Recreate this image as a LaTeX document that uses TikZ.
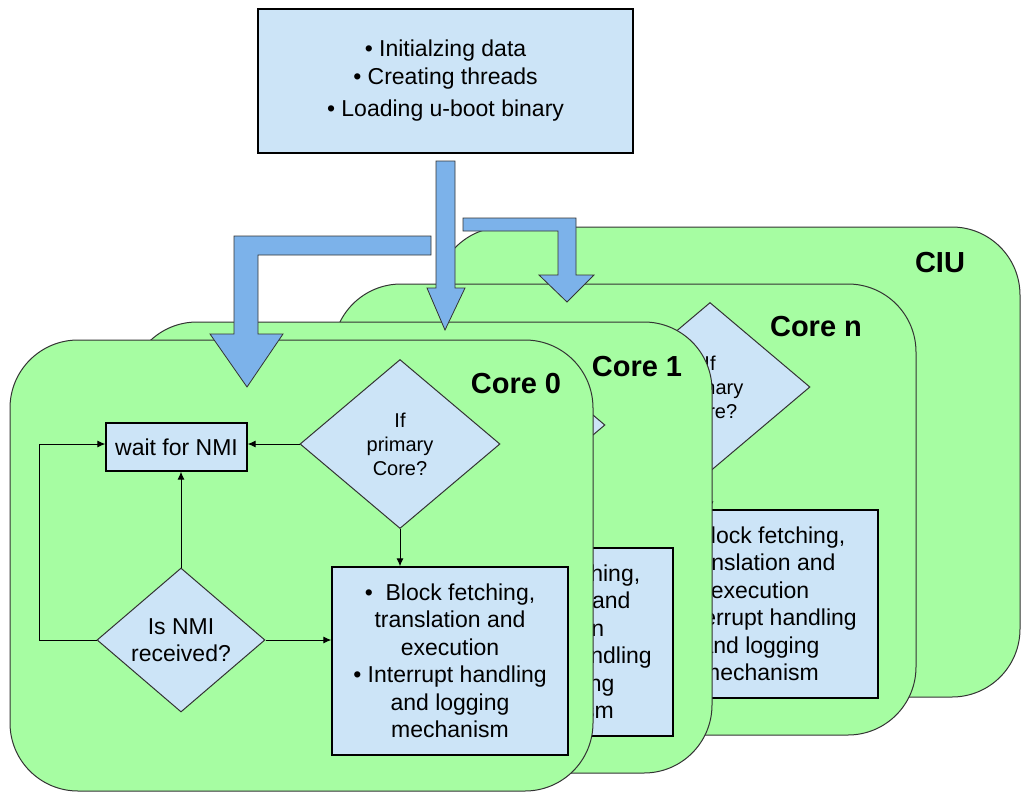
\documentclass[tikz,border=0pt]{standalone}
\usepackage{fontspec}
\setmainfont{Liberation Sans}
\usetikzlibrary{shapes.geometric,arrows.meta}

\definecolor{cardgreen}{RGB}{166,253,162}
\definecolor{boxblue}{RGB}{204,228,247}
\definecolor{arrowblue}{RGB}{124,178,234}
\definecolor{edgegray}{RGB}{51,51,51}

\tikzset{
  card/.style={fill=cardgreen, draw=edgegray, line width=1pt, rounded corners=68pt},
  stepbox/.style={rectangle, draw=black, line width=1.3pt, fill=boxblue, inner sep=0pt, align=center,
    font=\fontsize{23}{27.5}\selectfont},
  decision/.style={diamond, draw=edgegray, line width=1pt, fill=boxblue, inner sep=0pt, align=center, aspect=1.17},
  flow/.style={draw=black, line width=1pt, -{Latex[length=8pt,width=7pt]}},
  cardtitle/.style={font=\fontsize{29}{34}\selectfont\bfseries},
  blockarrow/.style={fill=arrowblue, draw=edgegray, line width=0.8pt}
}

% one core: suffix, card shift, content shift, title, title position
\newcommand{\corecard}[5]{%
  \begin{scope}[shift={#2}]
    \draw[card] (10,340) rectangle (593,791);
  \end{scope}
  \node[cardtitle] (title#1) at #5 {#4};
  \begin{scope}[shift={#3}]
    \node[decision, minimum width=200pt, minimum height=169pt, font=\fontsize{20}{24}\selectfont] (primary#1) at (400,444) {If\\primary\\Core?};
    \node[stepbox, minimum width=141pt, minimum height=48pt] (wait#1) at (176.5,447) {wait for NMI};
    \node[decision, minimum width=168pt, minimum height=144pt, font=\fontsize{23}{27}\selectfont] (nmi#1) at (181,640) {Is NMI\\received?};
    \node[stepbox, minimum width=236pt, minimum height=188pt] (exec#1) at (450,661)
      {\textbullet\ \ Block fetching,\\ translation and\\ execution\\ \textbullet\ Interrupt handling\\ and logging\\ mechanism};
    \draw[flow] (primary#1.west) -- (primary#1.west -| wait#1.east);
    \draw[flow] (primary#1.south) -- (primary#1.south |- exec#1.north);
    \draw[flow] (nmi#1.north) -- (nmi#1.north |- wait#1.south);
    \draw[flow] (nmi#1.east) -- (nmi#1.east -| exec#1.west);
    \draw[flow] (nmi#1.west) -- ++(-57,0) |- (primary#1.west -| wait#1.west);
  \end{scope}
}

\begin{document}
\begin{tikzpicture}[x=1pt, y=-1pt]
\useasboundingbox (0,0) rectangle (1023,793);

\node[stepbox, minimum width=375pt, minimum height=144pt] (init) at (445.5,81)
  {\textbullet\ Initialzing data\\ \textbullet\ Creating threads\\[5pt] \textbullet\ Loading u-boot binary};

% controller card at the back
\draw[card] (436,227) rectangle (1020,697);
\node[cardtitle] (ciu) at (940,263) {CIU};

\corecard{n}{(323,-56)}{(310,-57)}{Core n}{(816,327)}
\corecard{1}{(119,-18)}{(105,-19)}{Core 1}{(637,367)}
\corecard{0}{(0,0)}{(0,0)}{Core 0}{(516,384)}

% block arrows from init
\draw[blockarrow] (431,236) -- (234,236) -- (234,334) -- (210,334) -- (247,387) -- (283,334)
  -- (258,334) -- (258,255) -- (431,255) -- cycle;
\draw[blockarrow] (436,161) -- (436,288) -- (427,288) -- (445,330) -- (465,288) -- (455,288)
  -- (455,161) -- cycle;
\draw[blockarrow] (463,218) -- (576,218) -- (576,275) -- (594,275) -- (567,302) -- (539,275)
  -- (558,275) -- (558,231) -- (463,231) -- cycle;
\end{tikzpicture}
\end{document}
